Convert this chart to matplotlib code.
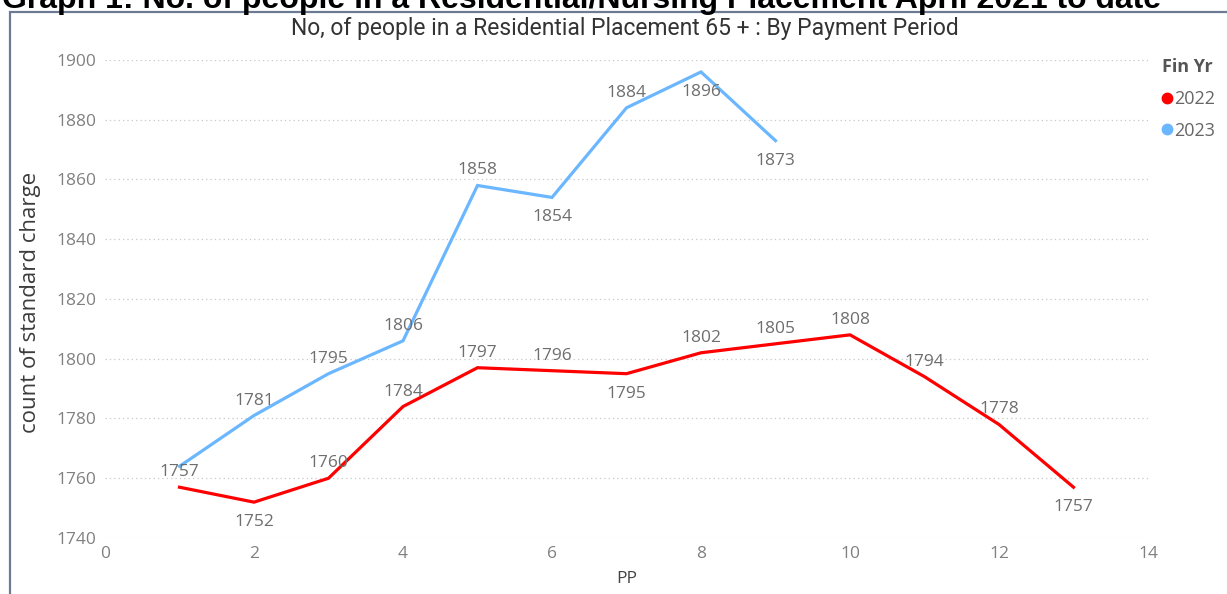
import matplotlib.pyplot as plt
from matplotlib.lines import Line2D
from matplotlib.patches import Rectangle

# -- Datos ----------------------------------------------------
pp_2022 = [1, 2, 3, 4, 5, 6, 7, 8, 9, 10, 11, 12, 13]
val_2022 = [1757, 1752, 1760, 1784, 1797, 1796, 1795, 1802, 1805, 1808, 1794, 1778, 1757]
pp_2023 = [1, 2, 3, 4, 5, 6, 7, 8, 9]
val_2023 = [1764, 1781, 1795, 1806, 1858, 1854, 1884, 1896, 1873]
# etiquetas visibles (None = oculta) y posicion (+1 arriba, -1 abajo)
lab_2022 = [1757, 1752, 1760, 1784, 1797, 1796, 1795, 1802, 1805, 1808, 1794, 1778, 1757]
pos_2022 = [1, -1, 1, 1, 1, 1, -1, 1, 1, 1, 1, 1, -1]
lab_2023 = [None, 1781, 1795, 1806, 1858, 1854, 1884, 1896, 1873]
pos_2023 = [1, 1, 1, 1, 1, -1, 1, -1, -1]

ROJO = '#FF0000'
AZUL = '#6BB7FF'
GRIS = '#6E6E6E'
FUENTE = 'Open Sans'

fig = plt.figure(figsize=(12.27, 5.94), dpi=100)
W, H = 1227, 594

# marco del visual
fig.patches.append(Rectangle((10 / W, -0.1), 1.2, (H - 12) / H + 0.1,
                             transform=fig.transFigure, fill=False,
                             edgecolor='#6C7A92', lw=1.6))

# titulo cortado arriba
fig.text(2 / W, 1 - 8 / H, 'Graph 1: No. of people in a Residential/Nursing Placement April 2021 to date',
         fontsize=23, fontweight='bold', family='Liberation Sans',
         ha='left', va='baseline', color='black')

fig.text(625 / W, 1 - 28 / H, 'No, of people in a Residential Placement 65 + : By Payment Period',
         fontsize=16.5, family='Roboto', ha='center', va='center', color='#333333')

ax = fig.add_axes([105 / W, (H - 538) / H, 1043 / W, 478 / H])
ax.plot(pp_2022, val_2022, color=ROJO, lw=2.3, solid_joinstyle='miter', zorder=3)
ax.plot(pp_2023, val_2023, color=AZUL, lw=2.3, solid_joinstyle='miter', zorder=3)


def etiquetas(xs, ys, labs, pos):
    for x, y, l, p in zip(xs, ys, labs, pos):
        if l is None:
            continue
        ax.annotate(str(l), xy=(x, y), xytext=(0, 15 if p > 0 else -20),
                    textcoords='offset pixels', ha='center', va='center',
                    fontsize=12.5, family=FUENTE, color=GRIS, zorder=4)


etiquetas(pp_2022, val_2022, lab_2022, pos_2022)
etiquetas(pp_2023, val_2023, lab_2023, pos_2023)

ax.set_xlim(0, 14)
ax.set_ylim(1740, 1900)
ax.set_xticks(range(0, 15, 2))
ax.set_yticks(range(1740, 1901, 20))
for s in ax.spines.values():
    s.set_visible(False)
ax.tick_params(length=0, labelsize=12.5, labelcolor='#808080', pad=6)
for t in ax.get_xticklabels() + ax.get_yticklabels():
    t.set_family(FUENTE)
ax.yaxis.grid(True, linestyle=(0, (1, 2.5)), color='#C8C8C8', lw=0.9)
ax.set_axisbelow(True)
ax.patch.set_alpha(0)

ax.set_xlabel('PP', fontsize=12.5, family=FUENTE, color='#444444', labelpad=6)
fig.text(31 / W, 1 - 302 / H, 'count of standard charge', rotation=90,
         fontsize=16, family=FUENTE, color='#3C3C3C', ha='center', va='center')

# leyenda
handles = [Line2D([], [], ls='', marker='o', ms=7.5, color=ROJO, label='2022'),
           Line2D([], [], ls='', marker='o', ms=7.5, color=AZUL, label='2023')]
leg = fig.legend(handles=handles, title='Fin Yr', loc='upper left',
                 bbox_to_anchor=(1148 / W, 1 - 44 / H), frameon=False,
                 handlelength=0.5, handletextpad=0.15, labelspacing=0.75,
                 borderpad=0.3, prop={'family': FUENTE, 'size': 13},
                 labelcolor='#666666')
leg.get_title().set_fontweight('bold')
leg.get_title().set_family(FUENTE)
leg.get_title().set_fontsize(13)
leg.get_title().set_color('#555555')
leg._legend_box.align = 'left'

fig.savefig('out.png', dpi=100)
